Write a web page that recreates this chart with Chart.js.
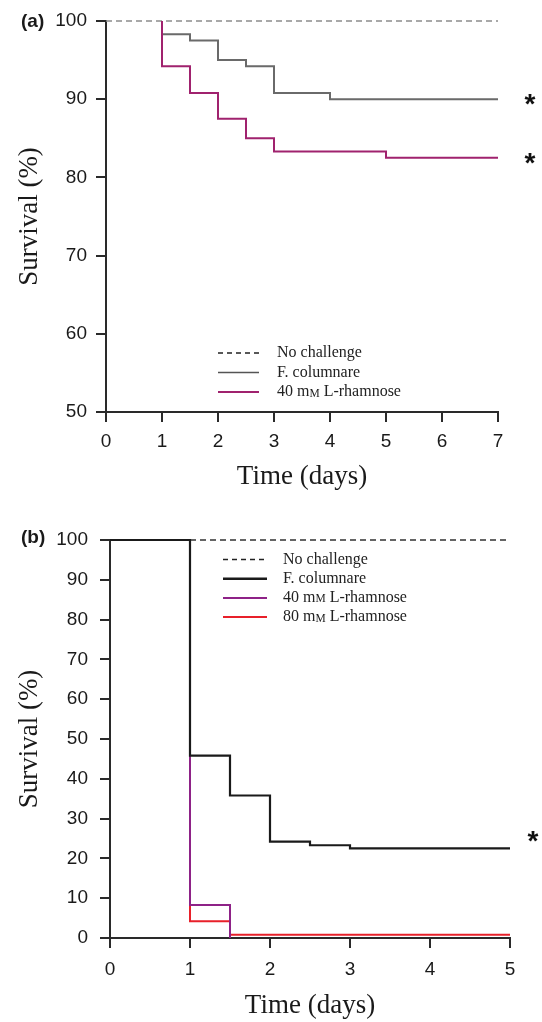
<!DOCTYPE html>
<html>
<head>
<meta charset="utf-8">
<script src="https://cdn.jsdelivr.net/npm/chart.js@4.4.1/dist/chart.umd.min.js"></script>
<style>
  html, body { margin: 0; padding: 0; background: #fff; }
  #wrap { width: 542px; height: 1022px; position: relative; }
  canvas { display: block; }
</style>
</head>
<body>
<div id="wrap">
  <canvas id="chartA" width="542" height="505"></canvas>
  <canvas id="chartB" width="542" height="517"></canvas>
</div>
<script>
// --- Panel (a): survival over 7 days ---
const timesA_noChallenge = [0, 7];
const survA_noChallenge = [100, 100];
const timesA_columnare = [1, 1, 1.5, 2, 2.5, 3, 4, 7];
const survA_columnare = [100, 98.3, 97.5, 95.0, 94.2, 90.8, 90.0, 90.0];
const timesA_rham40 = [1, 1, 1.5, 2, 2.5, 3, 5, 7];
const survA_rham40 = [100, 94.2, 90.8, 87.5, 85.0, 83.3, 82.5, 82.5];
const legendA = ["No challenge", "F. columnare", "40 mM L-rhamnose"];

// --- Panel (b): survival over 5 days ---
const timesB_noChallenge = [0, 5];
const survB_noChallenge = [100, 100];
const timesB_columnare = [0, 1, 1.5, 2, 2.5, 3, 5];
const survB_columnare = [100, 45.8, 35.8, 24.2, 23.3, 22.5, 22.5];
const timesB_rham40 = [0, 1, 1.5];
const survB_rham40 = [100, 8.3, 0];
const timesB_rham80 = [0, 1, 1.5, 5];
const survB_rham80 = [100, 4.2, 0.8, 0.8];
const legendB = ["No challenge", "F. columnare", "40 mM L-rhamnose", "80 mM L-rhamnose"];

const sansFont = '"Liberation Sans", Arial, sans-serif';
const serifFont = '"Liberation Serif", "Times New Roman", serif';

function toPoints(times, values) {
    return times.map((t, i) => ({ x: t, y: values[i] }));
}

function series(times, values, color, width, dash) {
    return {
        data: toPoints(times, values),
        borderColor: color,
        borderWidth: width,
        borderDash: dash || [],
        stepped: true,
        pointRadius: 0,
        fill: false,
        clip: false
    };
}

// draws "mM" with the M in small caps
function drawLegendText(ctx, text, x, y) {
    const parts = text.split("mM");
    ctx.font = '16px ' + serifFont;
    if (parts.length < 2) { ctx.fillText(text, x, y); return; }
    const first = parts[0] + "m";
    ctx.fillText(first, x, y);
    x += ctx.measureText(first).width;
    ctx.font = '11.5px ' + serifFont;
    ctx.fillText("M", x, y + 1.5);
    x += ctx.measureText("M").width;
    ctx.font = '16px ' + serifFont;
    ctx.fillText(parts[1], x, y);
}

function overlayPlugin(opts) {
    return {
        id: 'overlay',
        afterDatasetsDraw(chart) {
            const ctx = chart.ctx;
            ctx.save();
            // panel label
            ctx.fillStyle = '#1a1a1a';
            ctx.textAlign = 'left';
            ctx.textBaseline = 'middle';
            ctx.font = 'bold 19px ' + sansFont;
            ctx.fillText(opts.panel, opts.panelX, opts.panelY);

            // legend
            opts.items.forEach((item, i) => {
                const y = opts.legendY + i * opts.rowH;
                ctx.beginPath();
                ctx.setLineDash(item.dash || []);
                ctx.strokeStyle = item.color;
                ctx.lineWidth = item.width;
                ctx.moveTo(opts.legendX, y);
                ctx.lineTo(opts.legendX + opts.lineLen, y);
                ctx.stroke();
                ctx.setLineDash([]);
                ctx.fillStyle = '#222';
                ctx.textBaseline = 'middle';
                drawLegendText(ctx, item.label, opts.textX, y);
            });

            // significance stars
            const ys = chart.scales.y;
            ctx.font = 'bold 28px ' + sansFont;
            ctx.textAlign = 'center';
            ctx.textBaseline = 'alphabetic';
            ctx.fillStyle = '#111';
            opts.stars.forEach(s => {
                const py = ys.getPixelForValue(s.value) + s.dy;
                ctx.fillText('*', s.x, py + 14);
            });
            ctx.restore();
        }
    };
}

function axes(xMax, yMin, yMax, yWidth, xHeight, yPad, xPad, xTitlePad) {
    const grid = { drawOnChartArea: false, drawTicks: true, tickLength: 10, color: '#2a2a2a', lineWidth: 2 };
    const border = { display: true, color: '#2a2a2a', width: 2 };
    return {
        x: {
            type: 'linear', min: 0, max: xMax,
            ticks: { stepSize: 1, padding: xPad, color: '#1a1a1a', font: { family: sansFont, size: 19 } },
            grid: grid, border: border,
            title: { display: true, text: 'Time (days)', color: '#1a1a1a', font: { family: serifFont, size: 27 }, padding: { top: 0, bottom: xTitlePad } },
            afterFit: s => { s.height = xHeight; }
        },
        y: {
            type: 'linear', min: yMin, max: yMax,
            ticks: { stepSize: 10, padding: yPad, autoSkip: false, color: '#1a1a1a', font: { family: sansFont, size: 19 } },
            grid: grid, border: border,
            title: { display: true, text: 'Survival (%)', color: '#1a1a1a', font: { family: serifFont, size: 27 }, padding: { top: 14, bottom: 0 } },
            afterFit: s => { s.width = yWidth; }
        }
    };
}

const baseOptions = {
    responsive: false,
    animation: false,
    devicePixelRatio: 1,
    plugins: { legend: { display: false }, tooltip: { enabled: false } }
};

// Panel (a)
new Chart(document.getElementById('chartA').getContext('2d'), {
    type: 'line',
    data: {
        datasets: [
            series(timesA_rham40, survA_rham40, '#a0226e', 2),
            series(timesA_columnare, survA_columnare, '#6a6a6a', 2),
            series(timesA_noChallenge, survA_noChallenge, '#8c8c8c', 1.6, [6, 4])
        ]
    },
    options: Object.assign({}, baseOptions, {
        layout: { padding: { top: 21, right: 44, bottom: 0, left: 0 } },
        scales: axes(7, 50, 100, 106, 93, 9, 8, 12)
    }),
    plugins: [overlayPlugin({
        panel: '(a)', panelX: 21, panelY: 22,
        legendX: 218, lineLen: 41, textX: 277, legendY: 353, rowH: 19.5,
        items: [
            { label: legendA[0], color: '#222', width: 1.6, dash: [5, 4] },
            { label: legendA[1], color: '#555', width: 1.6 },
            { label: legendA[2], color: '#a0226e', width: 2 }
        ],
        stars: [
            { x: 530, value: survA_columnare[survA_columnare.length - 1], dy: 0 },
            { x: 530, value: survA_rham40[survA_rham40.length - 1], dy: 0 }
        ]
    })]
});

// Panel (b)
new Chart(document.getElementById('chartB').getContext('2d'), {
    type: 'line',
    data: {
        datasets: [
            series(timesB_columnare, survB_columnare, '#1a1a1a', 2.2),
            series(timesB_rham40, survB_rham40, '#8e2287', 2),
            series(timesB_rham80, survB_rham80, '#e8202a', 2),
            series(timesB_noChallenge, survB_noChallenge, '#333', 1.6, [6, 4])
        ]
    },
    options: Object.assign({}, baseOptions, {
        layout: { padding: { top: 35, right: 32, bottom: 0, left: 0 } },
        scales: axes(5, 0, 100, 110, 84, 12, 10, 0)
    }),
    plugins: [overlayPlugin({
        panel: '(b)', panelX: 21, panelY: 33,
        legendX: 223, lineLen: 44, textX: 283, legendY: 54.5, rowH: 19.2,
        items: [
            { label: legendB[0], color: '#222', width: 1.6, dash: [5, 4] },
            { label: legendB[1], color: '#1a1a1a', width: 2.4 },
            { label: legendB[2], color: '#8e2287', width: 2 },
            { label: legendB[3], color: '#e8202a', width: 2 }
        ],
        stars: [
            { x: 533, value: survB_columnare[survB_columnare.length - 1], dy: -12 }
        ]
    })]
});
</script>
</body>
</html>
